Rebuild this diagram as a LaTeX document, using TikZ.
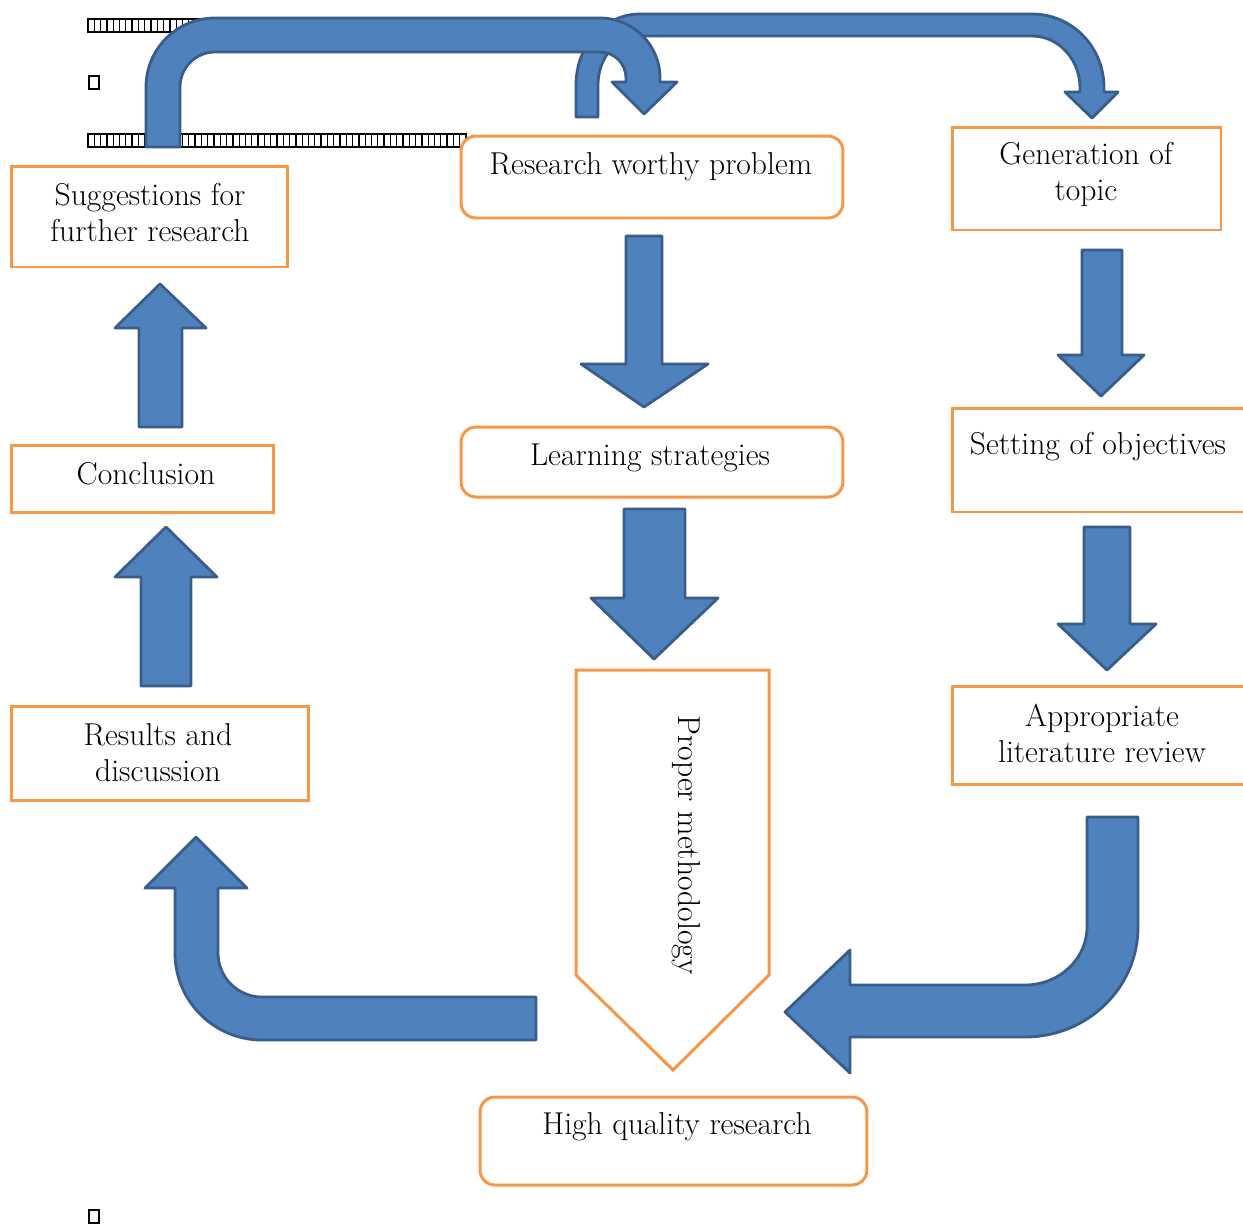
\documentclass[tikz,border=0pt]{standalone}
\definecolor{blueF}{HTML}{4F81BD}
\definecolor{blueD}{HTML}{385D8A}
\definecolor{orng}{HTML}{F79646}
\begin{document}
\begin{tikzpicture}[x=0.02cm,y=-0.02cm,
  blk/.style={fill=blueF,draw=blueD,line width=1.6pt,line join=round},
  obox/.style={draw=orng,line width=1.7pt,fill=white,inner sep=0pt},
  rbox/.style={obox,rounded corners=0.3cm},
  lbl/.style={font=\fontsize{18}{20.5}\selectfont,align=center,inner sep=0pt},
  tofu/.style={draw=black,line width=0.7pt,fill=white}]
\path[use as bounding box] (0,0) rectangle (1243,1225);
\clip (0,0) rectangle (1243,1225);

% missing-glyph boxes
\foreach \i in {0,...,83} {\draw[tofu] (88+6.3*\i,19) rectangle (94.3+6.3*\i,32);}
\foreach \i in {0,...,59} {\draw[tofu] (88+6.3*\i,134) rectangle (94.3+6.3*\i,147);}
\draw[tofu] (89,76) rectangle (99,89);
\draw[tofu] (89,1210) rectangle (99,1223);

% boxes
\node[obox,minimum width=5.54cm,minimum height=2.02cm] (sug) at (149.5,216.5) {};
\node[obox,minimum width=5.26cm,minimum height=1.34cm] (con) at (142.5,478.5) {};
\node[obox,minimum width=5.96cm,minimum height=1.88cm] (res) at (160,753) {};
\node[rbox,minimum width=7.64cm,minimum height=1.64cm] (rwp) at (652,177) {};
\node[rbox,minimum width=7.64cm,minimum height=1.40cm] (lrn) at (652,462) {};
\node[obox,minimum width=5.38cm,minimum height=2.06cm] (gen) at (1086.5,178.5) {};
\node[obox,minimum width=6.16cm,minimum height=2.08cm] (set) at (1106,460) {};
\node[obox,minimum width=6.16cm,minimum height=1.96cm] (app) at (1106,735) {};
\node[rbox,minimum width=7.74cm,minimum height=1.76cm] (hqr) at (673.5,1141) {};

% labels
\node[lbl] (tsug) at (150,213) {Suggestions for\\further research};
\node[lbl] (tcon) at (146,474) {Conclusion};
\node[lbl] (tres) at (158,753) {Results and\\discussion};
\node[lbl] (trwp) at (651,167) {Research worthy problem};
\node[lbl] (tlrn) at (650,458) {Learning strategies};
\node[lbl] (tgen) at (1086,174) {Generation of\\topic};
\node[lbl] (tset) at (1098,447) {Setting of objectives};
\node[lbl] (tapp) at (1102,733) {Appropriate\\literature review};
\node[lbl] (thqr) at (677,1127) {High quality research};

% proper methodology pentagon
\draw[draw=orng,line width=1.7pt,fill=white,line join=miter]
  (576,670) -- (769,670) -- (769,975) -- (673,1070) -- (576,975) -- cycle;
\node[lbl,rotate=-90] (tpm) at (686,845) {Proper methodology};

% straight block arrows
\draw[blk] (626,236) -- (662,236) -- (662,364) -- (708,364) -- (644,407) -- (581,364) -- (626,364) -- cycle;
\draw[blk] (624,509) -- (685,509) -- (685,598) -- (718,598) -- (654,659) -- (591,598) -- (624,598) -- cycle;
\draw[blk] (1082,250) -- (1122,250) -- (1122,355) -- (1144,355) -- (1101,396) -- (1058,355) -- (1082,355) -- cycle;
\draw[blk] (1084,527) -- (1130,527) -- (1130,624) -- (1156,624) -- (1107,670) -- (1058,624) -- (1084,624) -- cycle;
\draw[blk] (139,427) -- (182,427) -- (182,328) -- (206,328) -- (160,284) -- (115,328) -- (139,328) -- cycle;
\draw[blk] (141,686) -- (191,686) -- (191,577) -- (217,577) -- (166,527) -- (115,577) -- (141,577) -- cycle;

% bent arrow: literature review -> high quality research
\draw[blk] (1087,817) -- (1138,817) -- (1138,927)
  .. controls (1138,987.8) and (1087.4,1037) .. (1025,1037)
  -- (850,1037) -- (850,1073) -- (785,1012) -- (850,950) -- (850,985) -- (1025,985)
  .. controls (1059.2,985) and (1087,959) .. (1087,927) -- cycle;

% bent arrow: high quality research -> results
\draw[blk] (536,997) -- (536,1040) -- (262,1040)
  .. controls (214,1040) and (175,1001) .. (175,953)
  -- (175,888) -- (145,888) -- (196,837) -- (247,888) -- (218,888) -- (218,953)
  .. controls (218,977.3) and (237.7,997) .. (262,997) -- cycle;

% top arrow 2 (behind): -> generation of topic
\draw[blk] (576,117) -- (576,85)
  .. controls (576,45.8) and (604.1,14) .. (640,14)
  -- (1032,14)
  .. controls (1071.8,14) and (1104,46.6) .. (1104,88)
  -- (1104,92) -- (1118,92) -- (1092,118) -- (1065,92) -- (1080,92) -- (1080,88)
  .. controls (1080,59.3) and (1058.5,36) .. (1032,36)
  -- (640,36)
  .. controls (616.3,36) and (598,57.9) .. (598,85)
  -- (598,117) -- cycle;

% top arrow 1 (front): suggestions -> research worthy problem
\draw[blk] (146,147) -- (146,87)
  .. controls (146,48.9) and (176.9,18) .. (215,18)
  -- (600,18)
  .. controls (633.1,18) and (660,44.9) .. (660,78)
  -- (660,82) -- (677,82) -- (644,114) -- (612,82) -- (626,82) -- (626,78)
  .. controls (626,63.6) and (614.4,52) .. (600,52)
  -- (215,52)
  .. controls (195.7,52) and (180,67.7) .. (180,87)
  -- (180,147) -- cycle;
\end{tikzpicture}
\end{document}
